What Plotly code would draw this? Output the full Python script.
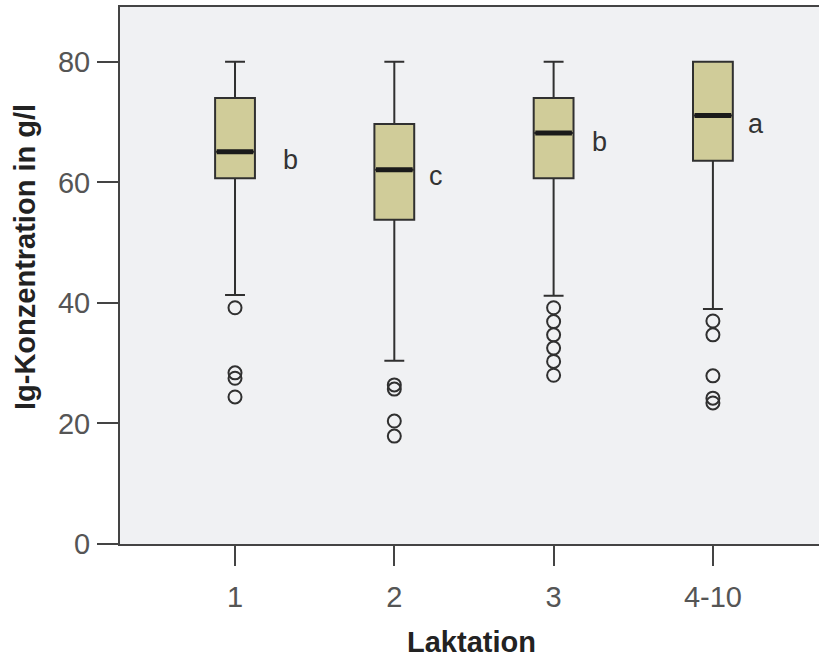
import plotly.graph_objects as go

# ---- data ----
categories = ["1", "2", "3", "4-10"]
q1_vals = [60.7, 53.8, 60.7, 63.6]
median_vals = [65.1, 62.1, 68.2, 71.1]
q3_vals = [74.0, 69.7, 74.0, 80.0]
lower_whisker = [41.3, 30.4, 41.2, 39.0]
upper_whisker = [80.0, 80.0, 80.0, 80.0]

outliers_1 = [39.2, 28.4, 27.5, 24.4]
outliers_2 = [26.4, 25.7, 20.4, 17.9]
outliers_3 = [39.2, 36.9, 34.7, 32.5, 30.3, 28.0]
outliers_4 = [37.0, 34.7, 27.9, 24.2, 23.4]

group_letters = ["b", "c", "b", "a"]
letter_y = [63.7, 61.1, 66.7, 69.7]
letter_dx = [0.35, 0.26, 0.29, 0.27]

y_ticks = [0, 20, 40, 60, 80]

# ---- style ----
box_w = 0.25
dark = "#303030"
font_family = "Liberation Sans, Arial, sans-serif"

fig = go.Figure()

fig.add_trace(go.Box(
    x=categories,
    q1=q1_vals, median=median_vals, q3=q3_vals,
    lowerfence=lower_whisker, upperfence=upper_whisker,
    boxpoints=False,
    fillcolor="#D0CC99",
    line=dict(color=dark, width=2),
    width=box_w,
    whiskerwidth=0.5,
    hoverinfo="skip",
    showlegend=False,
))

all_out = [outliers_1, outliers_2, outliers_3, outliers_4]
ox, oy = [], []
for cat, vals in zip(categories, all_out):
    ox += [cat] * len(vals)
    oy += vals
fig.add_trace(go.Scatter(
    x=ox, y=oy, mode="markers",
    marker=dict(symbol="circle-open", size=13, color=dark, line=dict(width=2, color=dark)),
    hoverinfo="skip", showlegend=False,
))

# thick median lines
shapes = []
for i, m in enumerate(median_vals):
    shapes.append(dict(type="line", xref="x", yref="y",
                       x0=i - box_w / 2 + 0.01, x1=i + box_w / 2 - 0.01, y0=m, y1=m,
                       line=dict(color="#1a1a1a", width=5)))

annotations = []
for i, (lt, ly, dx) in enumerate(zip(group_letters, letter_y, letter_dx)):
    annotations.append(dict(x=i + dx, y=ly, xref="x", yref="y", text=lt, showarrow=False,
                            xanchor="center", yanchor="middle",
                            font=dict(size=27, color="#333333", family=font_family)))

# axis titles
annotations.append(dict(x=(25 - 120) / 699, y=(544 - 257) / 537, xref="paper", yref="paper",
                        text="<b>Ig-Konzentration in g/l</b>", textangle=-90, showarrow=False,
                        xanchor="center", yanchor="middle",
                        font=dict(size=29, color="#222222", family=font_family)))
annotations.append(dict(x=(471 - 120) / 699, y=(544 - 642) / 537, xref="paper", yref="paper",
                        text="<b>Laktation</b>", showarrow=False,
                        xanchor="center", yanchor="middle",
                        font=dict(size=29, color="#222222", family=font_family)))

fig.update_layout(
    width=819, height=659,
    margin=dict(l=120, r=0, t=7, b=115),
    paper_bgcolor="white",
    plot_bgcolor="#F0F1F3",
    shapes=shapes,
    annotations=annotations,
    font=dict(family=font_family),
)

fig.update_xaxes(
    type="category", categoryorder="array", categoryarray=categories,
    range=[-0.722, 3.666],
    showline=True, linecolor="#444444", linewidth=2, mirror=True,
    ticks="outside", ticklen=20, tickwidth=2, tickcolor="#444444",
    tickfont=dict(size=29, color="#555555", family=font_family),
    ticklabelstandoff=6,
    showgrid=False, zeroline=False,
)
fig.update_yaxes(
    range=[0, 89.1],
    tickvals=y_ticks, ticktext=[str(t) for t in y_ticks],
    showline=True, linecolor="#444444", linewidth=2,
    ticks="outside", ticklen=21, tickwidth=2, tickcolor="#444444",
    tickfont=dict(size=29, color="#555555", family=font_family),
    ticklabelstandoff=1,
    showgrid=False, zeroline=False,
)

fig.write_html("out.html")
